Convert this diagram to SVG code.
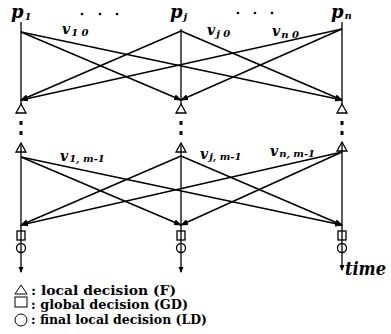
<svg xmlns="http://www.w3.org/2000/svg" width="391" height="334" viewBox="0 0 391 334">
<style>
.ln{stroke:#000;stroke-width:1.5;fill:none}
.ax{stroke:#000;stroke-width:1.3;fill:none}
.sym{stroke:#000;stroke-width:1.3;fill:#fff}
.p{font-family:"DejaVu Serif","Liberation Serif",serif;font-style:italic;font-weight:bold;font-size:18px}
.v{font-family:"DejaVu Serif","Liberation Serif",serif;font-style:italic;font-weight:bold;font-size:14px}
.s{font-family:"DejaVu Serif","Liberation Serif",serif;font-style:italic;font-weight:bold;font-size:10px}
.lg{font-family:"DejaVu Serif","Liberation Serif",serif;font-weight:bold;font-size:13px}
.dot{fill:#000}
</style>
<defs>
<marker id="ah" markerWidth="8" markerHeight="6" refX="7" refY="3" orient="auto" markerUnits="userSpaceOnUse">
<path d="M0,0 L8,3 L0,6 z" fill="#000"/>
</marker>
<marker id="ta" markerWidth="6" markerHeight="6" refX="5" refY="3" orient="auto" markerUnits="userSpaceOnUse">
<path d="M0,0.5 L6,3 L0,5.5 z" fill="#000"/>
</marker>
</defs>

<g id="connectors">
<line class="ln" x1="21" y1="32" x2="181" y2="100" marker-end="url(#ah)"/>
<line class="ln" x1="21" y1="32" x2="342" y2="100" marker-end="url(#ah)"/>
<line class="ln" x1="181" y1="31" x2="21" y2="100" marker-end="url(#ah)"/>
<line class="ln" x1="181" y1="31" x2="342" y2="100" marker-end="url(#ah)"/>
<line class="ln" x1="342" y1="29" x2="21" y2="100" marker-end="url(#ah)"/>
<line class="ln" x1="342" y1="29" x2="181" y2="100" marker-end="url(#ah)"/>
<line class="ln" x1="21" y1="157" x2="181" y2="225" marker-end="url(#ah)"/>
<line class="ln" x1="21" y1="157" x2="342" y2="225" marker-end="url(#ah)"/>
<line class="ln" x1="181" y1="156" x2="21" y2="225" marker-end="url(#ah)"/>
<line class="ln" x1="181" y1="156" x2="342" y2="225" marker-end="url(#ah)"/>
<line class="ln" x1="342" y1="152" x2="21" y2="225" marker-end="url(#ah)"/>
<line class="ln" x1="342" y1="152" x2="181" y2="225" marker-end="url(#ah)"/>
</g>

<g id="p1">
<line class="ax" x1="21" y1="22" x2="21" y2="113"/>
<path class="sym" d="M21,104 L26,113 L16,113 Z"/>
<rect class="dot" x="19.5" y="121" width="3" height="4"/>
<rect class="dot" x="19.5" y="131" width="3" height="4"/>
<path class="sym" d="M21,143 L26,152 L16,152 Z"/>
<rect class="sym" x="17" y="231" width="8" height="9"/>
<circle class="sym" cx="21" cy="248" r="4.5"/>
<line class="ax" x1="21" y1="143" x2="21" y2="272" marker-end="url(#ta)"/>
<text class="p" x="11" y="18">p<tspan class="s" dx="1" dy="2">1</tspan></text>
</g>

<g id="pj">
<line class="ax" x1="181" y1="29" x2="181" y2="113"/>
<path class="sym" d="M181,104 L186,113 L176,113 Z"/>
<rect class="dot" x="179.5" y="121" width="3" height="4"/>
<rect class="dot" x="179.5" y="131" width="3" height="4"/>
<path class="sym" d="M181,143 L186,152 L176,152 Z"/>
<rect class="sym" x="177" y="231" width="8" height="9"/>
<circle class="sym" cx="181" cy="248" r="4.5"/>
<line class="ax" x1="181" y1="143" x2="181" y2="272" marker-end="url(#ta)"/>
<text class="p" x="170" y="18">p<tspan class="s" dx="1" dy="2">j</tspan></text>
</g>

<g id="pn">
<line class="ax" x1="342" y1="22" x2="342" y2="113"/>
<path class="sym" d="M342,104 L347,113 L337,113 Z"/>
<rect class="dot" x="340.5" y="121" width="3" height="4"/>
<rect class="dot" x="340.5" y="131" width="3" height="4"/>
<path class="sym" d="M342,142 L347,151 L337,151 Z"/>
<rect class="sym" x="338" y="231" width="8" height="9"/>
<circle class="sym" cx="342" cy="248" r="4.5"/>
<line class="ax" x1="342" y1="142" x2="342" y2="270" marker-end="url(#ta)"/>
<text class="p" x="331" y="18">p<tspan class="s" dx="1" dy="1">n</tspan></text>
</g>

<g id="dots">
<circle class="dot" cx="82" cy="14" r="1.3"/>
<circle class="dot" cx="100" cy="14" r="1.3"/>
<circle class="dot" cx="117" cy="14" r="1.3"/>
<circle class="dot" cx="238" cy="13" r="1.3"/>
<circle class="dot" cx="255" cy="13" r="1.3"/>
<circle class="dot" cx="272" cy="13" r="1.3"/>
</g>

<g id="labels">
<text class="v" x="62" y="34">v<tspan class="s" dx="1" dy="2">1 0</tspan></text>
<text class="v" x="207" y="35">v<tspan class="s" dx="1" dy="2">j 0</tspan></text>
<text class="v" x="272" y="36">v<tspan class="s" dx="1" dy="2">n 0</tspan></text>
<text class="v" x="60" y="161">v<tspan class="s" dx="1" dy="1">1, m-1</tspan></text>
<text class="v" x="200" y="159">v<tspan class="s" dx="1" dy="1">j, m-1</tspan></text>
<text class="v" x="270" y="156">v<tspan class="s" dx="1" dy="1">n, m-1</tspan></text>
<text class="p" x="345" y="275" font-size="16" textLength="41" lengthAdjust="spacingAndGlyphs">time</text>
</g>

<g id="legend">
<path class="sym" d="M21,285 L27,294 L15,294 Z" style="stroke-width:1"/>
<rect class="sym" x="15" y="297" width="12" height="10" style="stroke-width:1"/>
<circle class="sym" cx="21" cy="320" r="6" style="stroke-width:1"/>
<text class="lg" x="31" y="295" textLength="145" lengthAdjust="spacingAndGlyphs">: local decision (F)</text>
<text class="lg" x="31" y="309" textLength="157" lengthAdjust="spacingAndGlyphs">: global decision (GD)</text>
<text class="lg" x="31" y="324" textLength="176" lengthAdjust="spacingAndGlyphs">: final local decision (LD)</text>
</g>
</svg>
